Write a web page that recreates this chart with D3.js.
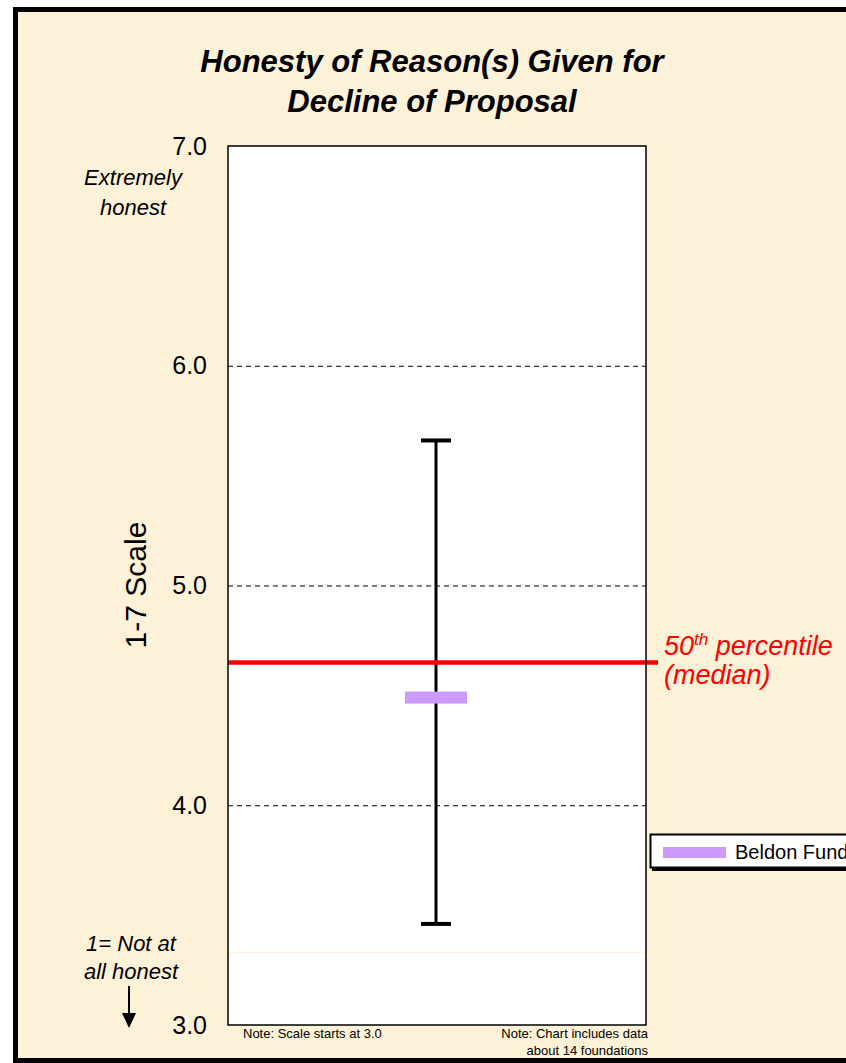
<!DOCTYPE html>
<html>
<head>
<meta charset="utf-8">
<script src="https://cdn.jsdelivr.net/npm/d3@7"></script>
<style>
  body { margin: 0; background: #fff; }
  svg { display: block; font-family: Arial, "Liberation Sans", sans-serif; }
</style>
</head>
<body>
<svg id="chart" width="846" height="1063"></svg>
<script>
// data
var yTicks = [3.0, 4.0, 5.0, 6.0, 7.0];
var gridValues = [4.0, 5.0, 6.0];
var rangeLow = 3.46;   // lowest foundation
var rangeHigh = 5.66;  // highest foundation
var median = 4.65;
var foundation = 'Beldon Fund';
var foundationValue = 4.49;
var cutoffLine = 3.33;

var svg = d3.select('#chart');

// outer frame
svg.append('rect')
  .attr('x', 15.5).attr('y', 9.5)
  .attr('width', 846).attr('height', 1051)
  .attr('fill', '#fdf2d7')
  .attr('stroke', '#000')
  .attr('stroke-width', 5);

var plot = { left: 228, right: 646, top: 146, bottom: 1025 };

var y = d3.scaleLinear()
  .domain([3, 7])
  .range([plot.bottom, plot.top]);

var xMid = 436;

// plot area
svg.append('rect')
  .attr('x', plot.left).attr('y', plot.top)
  .attr('width', plot.right - plot.left).attr('height', plot.bottom - plot.top)
  .attr('fill', '#fff');

// faint line near the bottom
svg.append('line')
  .attr('x1', plot.left).attr('x2', plot.right)
  .attr('y1', y(cutoffLine) + 0.5).attr('y2', y(cutoffLine) + 0.5)
  .attr('stroke', '#fbefc8').attr('stroke-width', 1);

// dashed grid
svg.selectAll('.grid').data(gridValues).enter()
  .append('line')
  .attr('class', 'grid')
  .attr('x1', plot.left).attr('x2', plot.right)
  .attr('y1', function(d) { return y(d) + 0.5; })
  .attr('y2', function(d) { return y(d) + 0.5; })
  .attr('stroke', '#000')
  .attr('stroke-width', 1)
  .attr('stroke-dasharray', '5,4');

// y axis labels
var axis = d3.axisLeft(y)
  .tickValues(yTicks)
  .tickFormat(d3.format('.1f'))
  .tickSize(0)
  .tickPadding(21);
var axisG = svg.append('g')
  .attr('transform', 'translate(' + plot.left + ',0)')
  .call(axis)
  .attr('font-size', 25)
  .attr('font-family', 'Arial, "Liberation Sans", sans-serif');
axisG.select('.domain').remove();
axisG.selectAll('text').attr('fill', '#000');

// range bar
var capW = 30;
svg.append('line')
  .attr('x1', xMid).attr('x2', xMid)
  .attr('y1', y(rangeHigh)).attr('y2', y(rangeLow))
  .attr('stroke', '#000').attr('stroke-width', 3);
svg.selectAll('.cap').data([rangeLow, rangeHigh]).enter()
  .append('line')
  .attr('x1', xMid - capW / 2).attr('x2', xMid + capW / 2)
  .attr('y1', function(d) { return y(d); })
  .attr('y2', function(d) { return y(d); })
  .attr('stroke', '#000').attr('stroke-width', 4);

// median line
svg.append('line')
  .attr('x1', plot.left).attr('x2', 658)
  .attr('y1', y(median)).attr('y2', y(median))
  .attr('stroke', '#ff0000').attr('stroke-width', 4.5);

// foundation marker
svg.append('rect')
  .attr('x', xMid - 31).attr('width', 62)
  .attr('y', y(foundationValue) - 6).attr('height', 12)
  .attr('fill', '#cc99ff');

// plot border
svg.append('rect')
  .attr('x', plot.left).attr('y', plot.top)
  .attr('width', plot.right - plot.left).attr('height', plot.bottom - plot.top)
  .attr('fill', 'none')
  .attr('stroke', '#000').attr('stroke-width', 1.5);

// title
var title = svg.append('text')
  .attr('text-anchor', 'middle')
  .attr('font-size', 31)
  .attr('font-weight', 'bold')
  .attr('font-style', 'italic');
title.append('tspan').attr('x', 432).attr('y', 72).text('Honesty of Reason(s) Given for');
title.append('tspan').attr('x', 432).attr('y', 112).text('Decline of Proposal');

// axis title
svg.append('text')
  .attr('transform', 'translate(146,585) rotate(-90)')
  .attr('text-anchor', 'middle')
  .attr('font-size', 30)
  .text('1-7 Scale');

// scale ends
var topLabel = svg.append('text')
  .attr('text-anchor', 'middle')
  .attr('font-size', 22)
  .attr('font-style', 'italic');
topLabel.append('tspan').attr('x', 133).attr('y', 185).text('Extremely');
topLabel.append('tspan').attr('x', 133).attr('y', 215).text('honest');

var botLabel = svg.append('text')
  .attr('text-anchor', 'middle')
  .attr('font-size', 22)
  .attr('font-style', 'italic');
botLabel.append('tspan').attr('x', 131).attr('y', 951).text('1= Not at');
botLabel.append('tspan').attr('x', 131).attr('y', 979).text('all honest');

// arrow
svg.append('line')
  .attr('x1', 129).attr('x2', 129)
  .attr('y1', 986).attr('y2', 1015)
  .attr('stroke', '#000').attr('stroke-width', 2);
svg.append('path')
  .attr('d', 'M122,1013 L136,1013 L129,1028 Z')
  .attr('fill', '#000');

// notes
svg.append('text')
  .attr('x', 243).attr('y', 1038)
  .attr('font-size', 13)
  .text('Note: Scale starts at 3.0');
var note = svg.append('text')
  .attr('text-anchor', 'end')
  .attr('font-size', 13);
note.append('tspan').attr('x', 648).attr('y', 1038).text('Note: Chart includes data');
note.append('tspan').attr('x', 648).attr('y', 1055).text('about 14 foundations');

// median label
var med = svg.append('text')
  .attr('fill', '#ff0000')
  .attr('font-size', 27)
  .attr('font-style', 'italic');
var l1 = med.append('tspan').attr('x', 664).attr('y', 655);
l1.append('tspan').text('50');
l1.append('tspan').attr('font-size', 17).attr('dy', -10).text('th');
l1.append('tspan').attr('dy', 10).text(' percentile');
med.append('tspan').attr('x', 664).attr('y', 684).text('(median)');

// legend
svg.append('rect')
  .attr('x', 652).attr('y', 837)
  .attr('width', 220).attr('height', 34)
  .attr('fill', '#000');
svg.append('rect')
  .attr('x', 650.5).attr('y', 834.5)
  .attr('width', 220).attr('height', 33)
  .attr('fill', '#fff')
  .attr('stroke', '#000').attr('stroke-width', 2);
svg.append('rect')
  .attr('x', 663).attr('y', 847)
  .attr('width', 63).attr('height', 11)
  .attr('fill', '#cc99ff');
svg.append('text')
  .attr('x', 735).attr('y', 859)
  .attr('font-size', 20)
  .text(foundation);
</script>
</body>
</html>
